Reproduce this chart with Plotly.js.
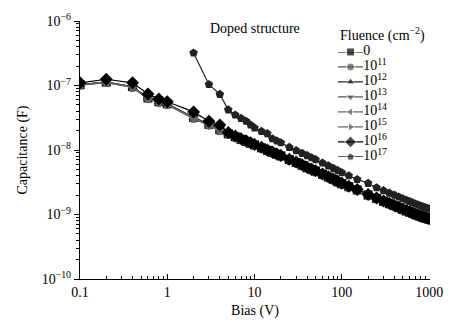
<!DOCTYPE html>
<html><head><meta charset="utf-8">
<script src="https://cdn.plot.ly/plotly-3.0.1.min.js"></script>
<style>html,body{margin:0;padding:0;background:#fff}#c{width:465px;height:334px}</style>
</head><body><div id="c"></div>
<script>
const bias = [0.1,0.2,0.4,0.6,0.8,1,2,3,4,5,6,7,8,9,10,12,14,16,18,20,25,30,35,40,45,50,60,70,80,90,100,120,150,200,250,300,350,400,450,500,550,600,650,700,750,800,850,900,950,1000];
const bias17 = [2,3,4,5,6,7,8,9,10,12,14,16,18,20,25,30,35,40,45,50,60,70,80,90,100,120,150,200,250,300,350,400,450,500,550,600,650,700,750,800,850,900,950,1000];

const c0   = [1.03e-7,1.13e-7,9.6e-8,6.4e-8,5.6e-8,5.2e-8,3.2e-8,2.5e-8,2.05e-8,1.78e-8,1.6e-8,1.46e-8,1.36e-8,1.27e-8,1.2e-8,1.08e-8,9.9e-9,9.2e-9,8.6e-9,8.1e-9,7.1e-9,6.4e-9,5.8e-9,5.3e-9,5.0e-9,4.7e-9,4.2e-9,3.8e-9,3.5e-9,3.2e-9,3.0e-9,2.7e-9,2.4e-9,2.0e-9,1.78e-9,1.6e-9,1.47e-9,1.37e-9,1.28e-9,1.2e-9,1.14e-9,1.09e-9,1.04e-9,1.0e-9,0.97e-9,0.94e-9,0.91e-9,0.89e-9,0.87e-9,0.85e-9];
const c11  = [1.02e-7,1.12e-7,9.4e-8,6.3e-8,5.5e-8,5.1e-8,3.1e-8,2.45e-8,2.0e-8,1.75e-8,1.58e-8,1.45e-8,1.35e-8,1.26e-8,1.19e-8,1.07e-8,9.8e-9,9.1e-9,8.5e-9,8.0e-9,7.0e-9,6.3e-9,5.8e-9,5.3e-9,4.9e-9,4.6e-9,4.15e-9,3.75e-9,3.45e-9,3.2e-9,2.95e-9,2.65e-9,2.35e-9,1.98e-9,1.76e-9,1.58e-9,1.46e-9,1.36e-9,1.27e-9,1.19e-9,1.13e-9,1.08e-9,1.03e-9,0.99e-9,0.96e-9,0.93e-9,0.9e-9,0.88e-9,0.86e-9,0.84e-9];
const c12  = [1.03e-7,1.14e-7,9.5e-8,6.5e-8,5.6e-8,5.2e-8,3.2e-8,2.5e-8,2.05e-8,1.77e-8,1.6e-8,1.46e-8,1.36e-8,1.27e-8,1.2e-8,1.08e-8,9.9e-9,9.2e-9,8.6e-9,8.1e-9,7.1e-9,6.4e-9,5.8e-9,5.3e-9,5.0e-9,4.7e-9,4.2e-9,3.8e-9,3.5e-9,3.2e-9,3.0e-9,2.7e-9,2.4e-9,2.0e-9,1.78e-9,1.6e-9,1.47e-9,1.37e-9,1.28e-9,1.2e-9,1.14e-9,1.09e-9,1.04e-9,1.0e-9,0.97e-9,0.94e-9,0.91e-9,0.89e-9,0.87e-9,0.85e-9];
const c13  = [1.01e-7,1.11e-7,9.3e-8,6.2e-8,5.4e-8,5.0e-8,3.05e-8,2.4e-8,1.98e-8,1.73e-8,1.56e-8,1.43e-8,1.33e-8,1.25e-8,1.18e-8,1.06e-8,9.7e-9,9.0e-9,8.4e-9,7.9e-9,6.95e-9,6.25e-9,5.7e-9,5.25e-9,4.9e-9,4.6e-9,4.1e-9,3.7e-9,3.4e-9,3.15e-9,2.95e-9,2.65e-9,2.35e-9,1.97e-9,1.75e-9,1.57e-9,1.45e-9,1.35e-9,1.26e-9,1.18e-9,1.12e-9,1.07e-9,1.02e-9,0.98e-9,0.95e-9,0.92e-9,0.89e-9,0.87e-9,0.85e-9,0.83e-9];
const c14  = [1.02e-7,1.12e-7,9.5e-8,6.3e-8,5.5e-8,5.1e-8,3.15e-8,2.45e-8,2.02e-8,1.76e-8,1.59e-8,1.45e-8,1.35e-8,1.26e-8,1.19e-8,1.07e-8,9.8e-9,9.1e-9,8.5e-9,8.0e-9,7.05e-9,6.35e-9,5.8e-9,5.3e-9,4.95e-9,4.65e-9,4.15e-9,3.75e-9,3.45e-9,3.2e-9,2.97e-9,2.67e-9,2.37e-9,1.99e-9,1.77e-9,1.59e-9,1.46e-9,1.36e-9,1.27e-9,1.19e-9,1.13e-9,1.08e-9,1.03e-9,0.99e-9,0.96e-9,0.93e-9,0.9e-9,0.88e-9,0.86e-9,0.84e-9];
const c15  = [1.02e-7,1.13e-7,9.4e-8,6.4e-8,5.5e-8,5.1e-8,3.1e-8,2.45e-8,2.0e-8,1.76e-8,1.59e-8,1.45e-8,1.35e-8,1.26e-8,1.19e-8,1.07e-8,9.8e-9,9.1e-9,8.5e-9,8.0e-9,7.0e-9,6.3e-9,5.75e-9,5.3e-9,4.95e-9,4.65e-9,4.15e-9,3.75e-9,3.45e-9,3.2e-9,2.97e-9,2.67e-9,2.37e-9,1.99e-9,1.77e-9,1.59e-9,1.46e-9,1.36e-9,1.27e-9,1.19e-9,1.13e-9,1.08e-9,1.03e-9,0.99e-9,0.96e-9,0.93e-9,0.9e-9,0.88e-9,0.86e-9,0.84e-9];
const c16  = [1.10e-7,1.25e-7,1.10e-7,7.4e-8,6.2e-8,5.6e-8,3.9e-8,2.8e-8,2.44e-8,1.86e-8,1.65e-8,1.5e-8,1.39e-8,1.3e-8,1.22e-8,1.1e-8,1.0e-8,9.3e-9,8.7e-9,8.2e-9,7.2e-9,6.5e-9,5.9e-9,5.4e-9,5.05e-9,4.75e-9,4.25e-9,3.85e-9,3.55e-9,3.25e-9,3.05e-9,2.75e-9,2.45e-9,2.05e-9,1.8e-9,1.62e-9,1.49e-9,1.38e-9,1.29e-9,1.21e-9,1.15e-9,1.1e-9,1.05e-9,1.01e-9,0.98e-9,0.95e-9,0.92e-9,0.9e-9,0.88e-9,0.86e-9];
const c17  = [3.2e-7,1.04e-7,7.3e-8,4.2e-8,3.5e-8,3.1e-8,2.8e-8,2.45e-8,2.2e-8,1.95e-8,1.8e-8,1.5e-8,1.38e-8,1.3e-8,1.1e-8,9.8e-9,8.9e-9,8.2e-9,7.6e-9,7.1e-9,6.3e-9,5.7e-9,5.2e-9,4.8e-9,4.45e-9,4.0e-9,3.5e-9,3.05e-9,2.6e-9,2.35e-9,2.15e-9,2.0e-9,1.87e-9,1.76e-9,1.67e-9,1.59e-9,1.52e-9,1.46e-9,1.41e-9,1.36e-9,1.32e-9,1.28e-9,1.25e-9,1.22e-9];

const names = ["0","10<sup>11</sup>","10<sup>12</sup>","10<sup>13</sup>","10<sup>14</sup>","10<sup>15</sup>","10<sup>16</sup>","10<sup>17</sup>"];
const symbols = ["square","circle","triangle-up","triangle-down","triangle-left","triangle-right","diamond","pentagon"];
const colors = ["#000000","#555555","#222222","#555555","#666666","#666666","#000000","#222222"];
const xs = [bias,bias,bias,bias,bias,bias,bias,bias17];
const ys = [c0,c11,c12,c13,c14,c15,c16,c17];

const xTickVals = [0.1,1,10,100,1000];
const xTickText = ["0.1","1","10","100","1000"];
const yTickVals = [1e-10,1e-9,1e-8,1e-7,1e-6];
const yTickText = ["10<sup>−10</sup>","10<sup>−9</sup>","10<sup>−8</sup>","10<sup>−7</sup>","10<sup>−6</sup>"];
const legendTitle = "Fluence (cm<sup>−2</sup>)";
const noteText = "Doped structure";

const F = "Liberation Serif";
const traces = names.map((n,i)=>({
  x: xs[i], y: ys[i], name: n, type:"scatter", mode:"lines+markers", showlegend:false,
  line:{color:colors[i], width:1.2},
  marker:{symbol:symbols[i], color:colors[i], size:(symbols[i]==="diamond"?10:9)}
}));
// legend keys drawn in a small helper subplot (row index = legend order)
names.forEach((n,i)=>{
  traces.push({
    x:[0,0.5,1], y:[i,i,i], xaxis:"x2", yaxis:"y2", type:"scatter", mode:"lines+markers+text",
    showlegend:false, hoverinfo:"skip", cliponaxis:false,
    line:{color:colors[i], width:1.2},
    marker:{symbol:symbols[i], color:colors[i], size:[0,(symbols[i]==="diamond"?9:8),0]},
    text:["","",n], textposition:"middle right",
    textfont:{family:F, size:14, color:"#000"}
  });
});

const layout = {
  width:465, height:334,
  margin:{l:80, r:35, t:21, b:55},
  paper_bgcolor:"#fff", plot_bgcolor:"rgba(0,0,0,0)",
  font:{family:F, size:14, color:"#000"},
  showlegend:false,
  xaxis:{type:"log", range:[-1,3.01], tickvals:xTickVals, ticktext:xTickText,
    showgrid:false, zeroline:false, showline:true, linecolor:"#000", linewidth:1.2,
    ticks:"inside", ticklen:5, tickcolor:"#000", tickfont:{family:F,size:14},
    minor:{ticks:"inside", ticklen:3, tickcolor:"#000", dtick:"D1", showgrid:false},
    title:{text:"Bias (V)", font:{family:F,size:14}, standoff:6}},
  yaxis:{type:"log", range:[-10,-6], tickvals:yTickVals, ticktext:yTickText,
    showgrid:false, zeroline:false, showline:true, linecolor:"#000", linewidth:1.2,
    ticks:"outside", ticklen:5, tickcolor:"#000", tickfont:{family:F,size:14},
    minor:{ticks:"outside", ticklen:3, tickcolor:"#000", dtick:"D1", showgrid:false},
    title:{text:"Capacitance (F)", font:{family:F,size:14}, standoff:10}},
  xaxis2:{domain:[0.737,0.809], range:[0,1], anchor:"y2", visible:false, fixedrange:true},
  yaxis2:{domain:[0.473,0.880], range:[7,0], anchor:"x2", visible:false, fixedrange:true},
  annotations:[
    {xref:"paper", yref:"paper", x:0.366, y:0.97, xanchor:"left", yanchor:"middle",
     text:noteText, showarrow:false, font:{family:F,size:14,color:"#000"}},
    {xref:"paper", yref:"paper", x:0.737, y:0.946, xanchor:"left", yanchor:"middle",
     text:legendTitle, showarrow:false, font:{family:F,size:14,color:"#000"}}
  ]
};
Plotly.newPlot("c", traces, layout, {staticPlot:true, displayModeBar:false});
</script></body></html>
